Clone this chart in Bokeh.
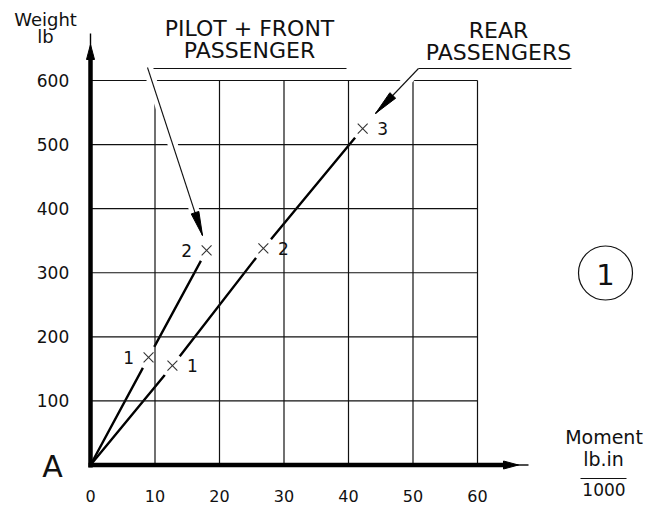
import math
from bokeh.plotting import figure
from bokeh.models import Range1d
from bokeh.embed import file_html
from bokeh.resources import INLINE
from bokeh.core.properties import value

# ---------------- data ----------------
x_ticks = [0, 10, 20, 30, 40, 50, 60]
y_ticks = [100, 200, 300, 400, 500, 600]
x_tick_labels = ["0", "10", "20", "30", "40", "50", "60"]
y_tick_labels = ["100", "200", "300", "400", "500", "600"]

pilot_moment = [0, 9.0, 18.0]
pilot_weight = [0, 168, 335]
pilot_labels = ["1", "2"]

rear_moment = [0, 12.7, 26.8, 42.2]
rear_weight = [0, 155, 338, 525]
rear_labels = ["1", "2", "3"]

# ---------------- layout ----------------
W, H = 648, 505
PAGE_OFF = 0               # page offset of the canvas
OX, OY = 90.0, 464.5       # canvas pixel of data origin
SX, SY = 6.45, 0.6408      # pixels per data unit

def X(px):  # page pixel -> data x
    return (px - PAGE_OFF - OX) / SX

def Y(py):  # page pixel -> data y
    return (OY - (py - PAGE_OFF)) / SY

FONT = value("DejaVu Sans")
INK = "#111111"

p = figure(width=W, height=H, output_backend="svg", toolbar_location=None,
           x_range=Range1d(-OX / SX, (W - OX) / SX),
           y_range=Range1d((OY - H) / SY, OY / SY),
           x_axis_location=None, y_axis_location=None,
           min_border=0, outline_line_color=None,
           background_fill_color="white", border_fill_color="white")
p.grid.visible = False

# ---- series lines ----
p.line(pilot_moment, pilot_weight, line_color="black", line_width=2.4)
p.line(rear_moment, rear_weight, line_color="black", line_width=2.4)

# white gaps around the marked points
p.scatter(pilot_moment[1:] + rear_moment[1:], pilot_weight[1:] + rear_weight[1:],
          marker="circle", size=24, fill_color="white", line_color=None)

# ---- grid ----
vx = x_ticks[1:]
vtop = [Y(100) if v == 10 else y_ticks[-1] for v in vx]
p.segment(x0=vx, y0=[0] * len(vx), x1=vx, y1=vtop, line_color=INK, line_width=1.2)
p.segment(x0=[0] * len(y_ticks), y0=y_ticks, x1=[x_ticks[-1]] * len(y_ticks), y1=y_ticks,
          line_color=INK, line_width=1.2)

# ---- leader arrows ----
def head(tip, tail, length, width):
    dx, dy = tip[0] - tail[0], tip[1] - tail[1]
    d = math.hypot(dx, dy)
    ux, uy = dx / d, dy / d
    bx, by = tip[0] - ux * length, tip[1] - uy * length
    nx, ny = -uy, ux
    pts = [tip, (bx + nx * width / 2, by + ny * width / 2), (bx - nx * width / 2, by - ny * width / 2)]
    return [X(q[0]) for q in pts], [Y(q[1]) for q in pts]

leaders = [((147, 67), (202, 235), 24, 8), ((418, 68), (375, 113), 25, 8)]
for tail, tip, ln, wd in leaders:
    p.line([X(tail[0]), X(tip[0])], [Y(tail[1]), Y(tip[1])], line_color="white", line_width=10)
for tail, tip, ln, wd in leaders:
    p.line([X(tail[0]), X(tip[0])], [Y(tail[1]), Y(tip[1])], line_color=INK, line_width=1.1)
    hx, hy = head(tip, tail, ln, wd)
    p.patch(hx, hy, fill_color="black", line_color="black", line_width=1)

# header underlines
p.line([X(153), X(346)], [Y(68), Y(68)], line_color=INK, line_width=1.2)
p.line([X(418), X(571)], [Y(68), Y(68)], line_color=INK, line_width=1.2)

# ---- axes ----
p.line([0, 0], [Y(467), Y(58)], line_color="black", line_width=4.5)
p.line([0, 0], [Y(58), Y(33)], line_color="black", line_width=1.4)
hx, hy = head((90, 44), (90, 60), 15, 8)
p.patch(hx, hy, fill_color="black", line_color="black")

p.line([X(88), X(503)], [0, 0], line_color="black", line_width=4.5)
p.line([X(503), X(528)], [0, 0], line_color="black", line_width=1.4)
hx, hy = head((518, 464.5), (500, 464.5), 15, 8)
p.patch(hx, hy, fill_color="black", line_color="black")

# ---- markers ----
p.scatter(pilot_moment[1:], pilot_weight[1:], marker="x", size=14,
          line_color="#333333", line_width=1.1)
p.scatter(rear_moment[1:], rear_weight[1:], marker="x", size=14,
          line_color="#333333", line_width=1.1)
p.text(pilot_moment[1:], pilot_weight[1:], text=pilot_labels, x_offset=-20,
       text_align="center", text_baseline="middle", text_font=FONT,
       text_font_size="17px", text_color=INK)
p.text(rear_moment[1:], rear_weight[1:], text=rear_labels, x_offset=20,
       text_align="center", text_baseline="middle", text_font=FONT,
       text_font_size="17px", text_color=INK)

# ---- tick labels ----
p.text(x_ticks, [Y(495)] * len(x_ticks), text=x_tick_labels,
       text_align="center", text_baseline="middle", text_font=FONT,
       text_font_size="16px", text_color=INK)
p.text([X(52.5)] * len(y_ticks), y_ticks, text=y_tick_labels,
       text_align="center", text_baseline="middle", text_font=FONT,
       text_font_size="17px", text_color=INK)

# ---- titles & annotations ----
def txt(px, py, s, size, align="center"):
    p.text([X(px)], [Y(py)], text=[s], text_align=align, text_baseline="middle",
           text_font=FONT, text_font_size=size, text_color=INK)

txt(45, 19, "Weight", "18px")
txt(45, 36, "lb", "18px")
txt(249, 27.5, "PILOT + FRONT", "22px")
txt(249, 49.5, "PASSENGER", "22px")
txt(498, 29.5, "REAR", "22px")
txt(498, 51.5, "PASSENGERS", "22px")
txt(52, 466, "A", "30px")
txt(603.5, 436.5, "Moment", "19px")
txt(603, 458.5, "lb.in", "19px")
p.line([X(580), X(626)], [Y(478), Y(478)], line_color=INK, line_width=1.2)
txt(603.5, 488.5, "1000", "17px")

# circled note number
p.scatter([X(605)], [Y(272.5)], marker="circle", size=54, fill_color=None,
          line_color=INK, line_width=1.2)
txt(605, 273.5, "1", "29px")

open("out.html", "w").write(file_html(p, INLINE))
